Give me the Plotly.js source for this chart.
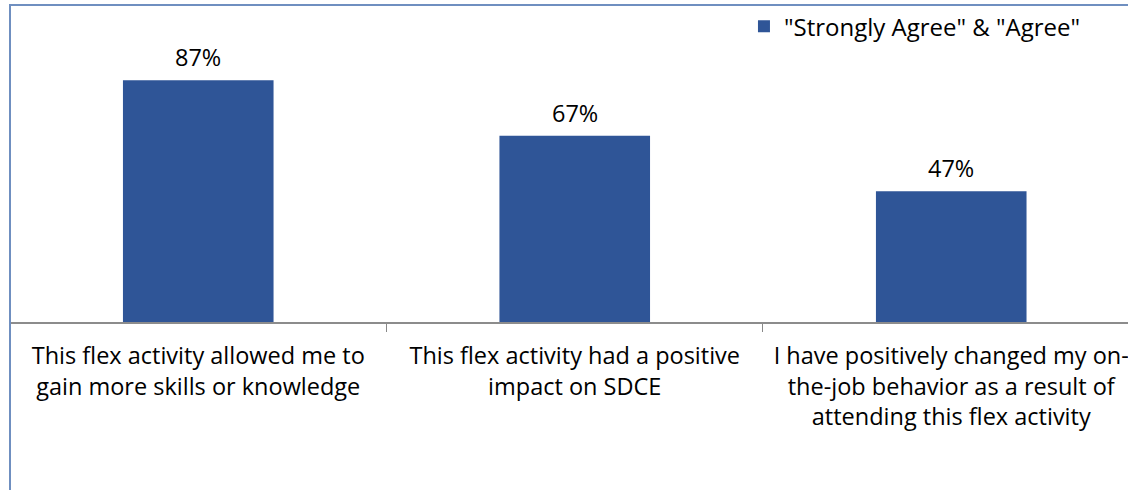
<!DOCTYPE html>
<html>
<head>
<meta charset="utf-8">
<script src="https://cdn.plot.ly/plotly-3.0.1.min.js"></script>
<style>html,body{margin:0;padding:0;background:#fff;}#chart{width:1128px;height:490px;}</style>
</head>
<body>
<div id="chart"></div>
<script>
var categories = [
  "This flex activity allowed me to<br>gain more skills or knowledge",
  "This flex activity had a positive<br>impact on SDCE",
  "I have positively changed my on-<br>the-job behavior as a result of<br>attending this flex activity"
];
var seriesName = "\"Strongly Agree\" & \"Agree\"";
var agreeValues = [0.87, 0.67, 0.47];
var valueLabels = ["87%", "67%", "47%"];

var FONT = "'Open Sans', 'Noto Sans', sans-serif";

var trace = {
  type: "bar",
  x: categories,
  y: agreeValues,
  name: seriesName,
  marker: {color: "#2f5597", line: {width: 0}},
  width: 0.4,
  showlegend: true,
  hoverinfo: "skip"
};

var annotations = categories.map(function (c, i) {
  return {
    x: c, y: agreeValues[i], xref: "x", yref: "y",
    text: valueLabels[i], showarrow: false,
    xanchor: "center", yanchor: "bottom", yshift: 5,
    font: {family: FONT, size: 23.5, color: "#000"}
  };
});

var layout = {
  width: 1128,
  height: 490,
  margin: {l: 10, r: 0, t: 44, b: 168, pad: 0},
  paper_bgcolor: "#fff",
  plot_bgcolor: "#fff",
  font: {family: FONT, size: 23.5, color: "#000"},
  showlegend: true,
  legend: {
    x: 0.6565, y: 1.143, xanchor: "left", yanchor: "top",
    font: {family: FONT, size: 24, color: "#000"},
    bgcolor: "rgba(0,0,0,0)",
    itemwidth: 30
  },
  annotations: annotations,
  xaxis: {
    type: "category",
    range: [-0.5, 2.4695],
    tickson: "boundaries",
    ticks: "outside",
    ticklen: 8,
    tickcolor: "#888",
    tickwidth: 1,
    ticklabelstandoff: 12,
    showline: true,
    linecolor: "#8c8c8c",
    linewidth: 2,
    showgrid: false,
    zeroline: false,
    tickangle: 0,
    automargin: false,
    fixedrange: true,
    tickfont: {family: FONT, size: 23.5, color: "#000"}
  },
  yaxis: {
    range: [0, 1],
    visible: false,
    showgrid: false,
    zeroline: false,
    fixedrange: true
  },
  shapes: [{
    type: "path",
    xref: "paper", yref: "paper",
    path: "M 0,-0.7 L 0,1.1403 L 1.01,1.1403",
    line: {color: "#6f8fc0", width: 2}
  }]
};

Plotly.newPlot("chart", [trace], layout, {displayModeBar: false, staticPlot: true});
</script>
</body>
</html>
